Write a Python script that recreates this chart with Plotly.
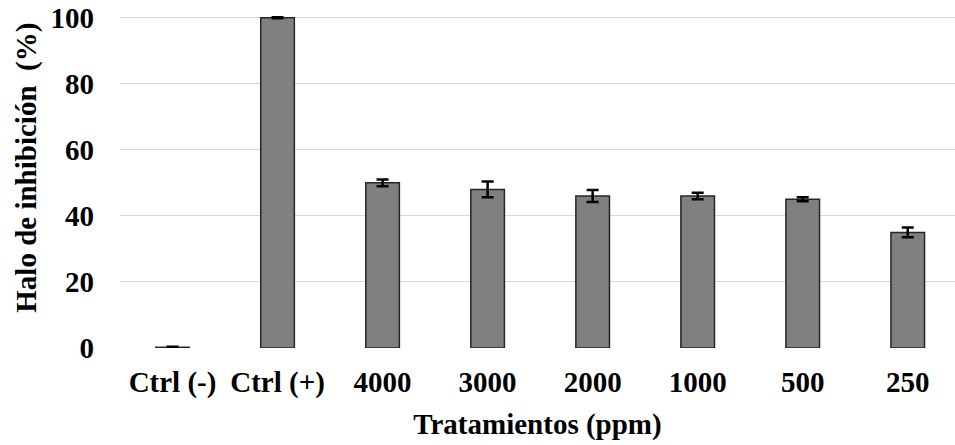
import plotly.graph_objects as go

categories = ["Ctrl (-)", "Ctrl (+)", "4000", "3000", "2000", "1000", "500", "250"]
values = [0.2, 100, 50, 48, 46, 46, 45, 35]
errors = [0.15, 0.2, 1.0, 2.4, 1.8, 1.0, 0.6, 1.5]
y_ticks = [0, 20, 40, 60, 80, 100]

fig = go.Figure()
fig.add_trace(go.Bar(
    x=categories,
    y=values,
    width=0.32,
    marker=dict(color="#808080", line=dict(color="#262626", width=1.5)),
    error_y=dict(type="data", array=errors, visible=True,
                 color="black", thickness=2.5, width=6),
))

font_family = "Liberation Serif"
fs = 29
fig.update_layout(
    width=955, height=445,
    margin=dict(l=120, r=0, t=16, b=97, autoexpand=False),
    paper_bgcolor="white", plot_bgcolor="white",
    font=dict(family=font_family, size=fs, color="black", weight="bold"),
    showlegend=False,
    xaxis=dict(
        range=[-0.5, 7.45], automargin=False,
        showgrid=False, showline=False, zeroline=False,
        ticks="", ticklabelstandoff=14,
        tickfont=dict(size=fs, weight="bold", family=font_family),
        title=dict(text="Tratamientos (ppm)", standoff=15,
                   font=dict(size=fs, weight="bold", family=font_family)),
    ),
    yaxis=dict(
        range=[0, 100.5], automargin=False,
        tickvals=y_ticks,
        showgrid=True, gridcolor="#d9d9d9", gridwidth=1.3,
        zeroline=False, showline=False,
        ticks="", ticklabelstandoff=25, ticklabeloverflow="allow",
        tickfont=dict(size=fs, weight="bold", family=font_family),
    ),
    annotations=[dict(
        text="Halo de inhibición  (%)", textangle=-90,
        xref="paper", yref="paper", x=-0.113, y=0.542,
        xanchor="center", yanchor="middle", showarrow=False,
        font=dict(size=fs, weight="bold", family=font_family, color="black"),
    )],
)

fig.write_html("out.html",
               config={"displayModeBar": False},
               post_script="document.body.style.margin='0';")
